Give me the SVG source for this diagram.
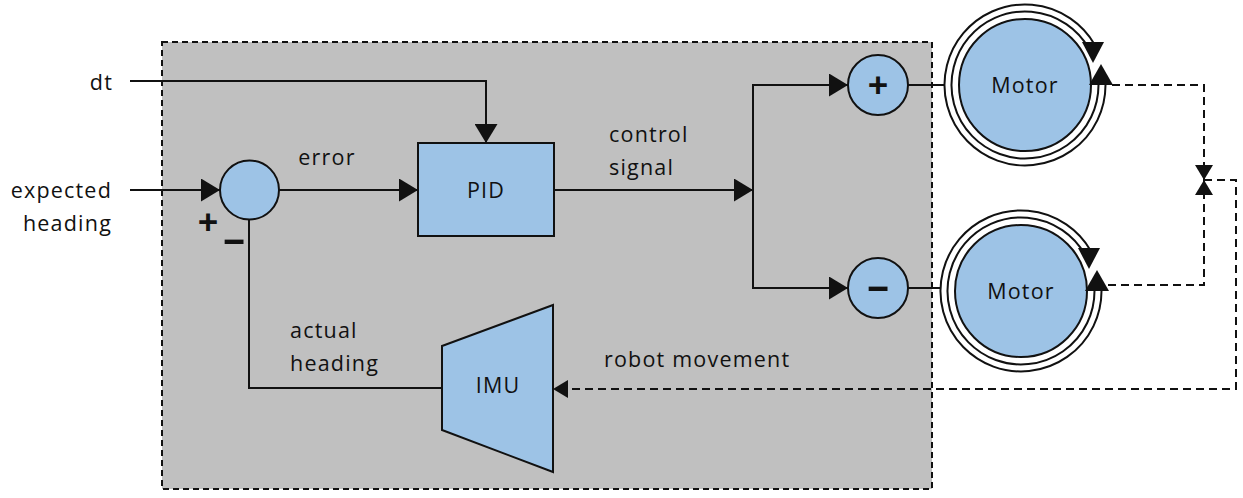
<svg xmlns="http://www.w3.org/2000/svg" width="1243" height="498" viewBox="0 0 1243 498">
<style>
text{font-family:"Open Sans","DejaVu Sans",sans-serif;font-size:21.5px;fill:#111;letter-spacing:1.2px}
.blk{fill:none;stroke:#111;stroke-width:2}
.dash{fill:none;stroke:#111;stroke-width:2;stroke-dasharray:8 5}
.node{fill:#9DC3E6;stroke:#111;stroke-width:2}
.sign{font-weight:bold;font-size:36px;letter-spacing:0}
.mid{text-anchor:middle}
.end{text-anchor:end}
</style>
<defs>
<marker id="arr" viewBox="0 0 19 23" markerWidth="19" markerHeight="23" refX="19" refY="11.5" orient="auto" markerUnits="userSpaceOnUse"><path d="M0,0 L19,11.5 L0,23 z" fill="#111"/></marker>
<marker id="arrs" viewBox="0 0 15 18" markerWidth="15" markerHeight="18" refX="15" refY="9" orient="auto" markerUnits="userSpaceOnUse"><path d="M0,0 L15,9 L0,18 z" fill="#111"/></marker>
<g id="motorShape">
<circle r="66" class="node"/>
<path d="M77,0 A77,77 0 1 1 66.7,-38.5" fill="none" stroke="#111" stroke-width="9"/>
<path d="M77,0 A77,77 0 1 1 66.7,-38.5" fill="none" stroke="#fff" stroke-width="5"/>
<polygon points="64,0 88,0 76,-21" fill="#111"/>
<polygon points="57,-43 79,-43 68,-22" fill="#111"/>
</g>
</defs>
<rect width="1243" height="498" fill="#fff"/>
<g id="boundary"><rect x="162" y="42" width="770" height="447" fill="#C0C0C0" stroke="#111" stroke-width="2" stroke-dasharray="6 4"/></g>

<g id="connectors">
<path class="blk" d="M130,81 H486 V143" marker-end="url(#arr)"/>
<path class="blk" d="M130,190 H220" marker-end="url(#arr)"/>
<path class="blk" d="M279,190 H418" marker-end="url(#arr)"/>
<path class="blk" d="M554,190 H753" marker-end="url(#arr)"/>
<path class="blk" d="M753,190 V85 H848" marker-end="url(#arr)"/>
<path class="blk" d="M753,190 V288 H848" marker-end="url(#arr)"/>
<path class="blk" d="M908,85 H946"/>
<path class="blk" d="M908,288 H942"/>
<path class="blk" d="M442,388 H249 V220"/>
<path class="dash" d="M1112,85 H1204 V180" marker-end="url(#arrs)"/>
<path class="dash" d="M1108,285 H1204 V180" marker-end="url(#arrs)"/>
<path class="dash" d="M1204,180 H1236 V389 H553" marker-end="url(#arrs)"/>
<text x="113" y="90" class="end">dt</text>
<text x="112" y="198" class="end">expected</text>
<text x="112" y="231" class="end">heading</text>
<text x="327" y="165" class="mid">error</text>
<text x="609" y="142">control</text>
<text x="609" y="175">signal</text>
<text x="290" y="338">actual</text>
<text x="290" y="371">heading</text>
<text x="604" y="367">robot movement</text>
</g>

<g id="sum">
<circle cx="249.5" cy="190" r="29.5" class="node"/>
<text x="208" y="235" class="sign mid">+</text>
<text transform="translate(234,251) scale(2,1)" class="sign mid">-</text>
</g>
<g id="pid">
<rect x="418" y="143" width="136" height="93" class="node"/>
<text x="486" y="198" class="mid">PID</text>
</g>
<g id="plus">
<circle cx="878" cy="85" r="30" class="node"/>
<text x="878" y="98" class="sign mid">+</text>
</g>
<g id="minus">
<circle cx="878" cy="288" r="30" class="node"/>
<text transform="translate(878,298) scale(2,1)" class="sign mid">-</text>
</g>
<g id="imu">
<polygon points="442,346 553,305 553,472 442,430" class="node"/>
<text x="498" y="393" class="mid">IMU</text>
</g>
<g id="motor1" transform="translate(1025,85)">
<use href="#motorShape"/>
<text x="0" y="8" class="mid">Motor</text>
</g>
<g id="motor2" transform="translate(1021,291)">
<use href="#motorShape"/>
<text x="0" y="8" class="mid">Motor</text>
</g>
</svg>
